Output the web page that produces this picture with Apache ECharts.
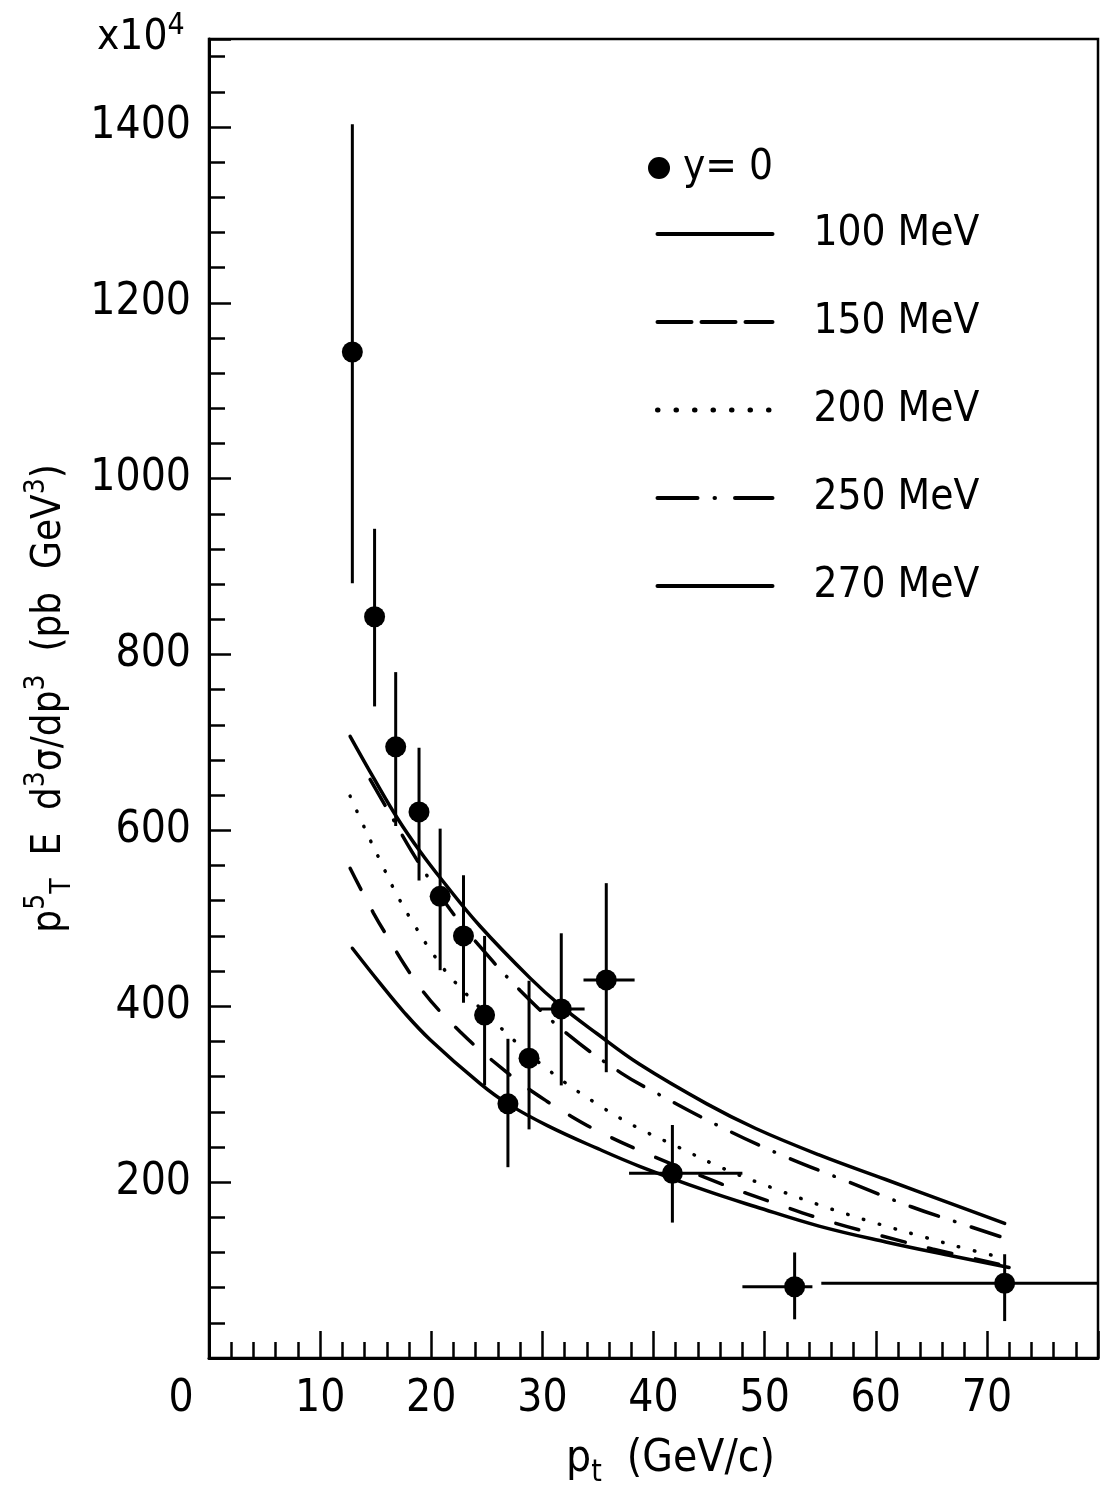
<!DOCTYPE html>
<html><head><meta charset="utf-8">
<script src="https://cdn.jsdelivr.net/npm/echarts@6/dist/echarts.min.js"></script>
<style>html,body{margin:0;padding:0;background:#fff}#c{width:1101px;height:1493px}</style>
</head><body><div id="c"></div>
<script>
const FONT = '"Liberation Sans Narrow","DejaVu Sans Condensed","DejaVu Sans",sans-serif';

// data points (y = 0)
const pointX  = [12.9, 14.9, 16.8, 18.9, 20.8, 22.9, 24.8, 26.9, 28.8, 31.7, 35.75, 41.7, 52.7, 71.6];
const pointY  = [1144, 843, 695, 621, 525, 480, 390, 289, 341, 397, 430, 210, 81, 85];
const errLow  = [881, 741, 605, 543, 441, 404, 310, 217, 260, 310, 325, 154, 44, 42];
const errHigh = [1403, 943, 780, 694, 602, 549, 480, 363, 429, 483, 540, 265, 120, 118];
const binLow  = [null, null, null, null, null, null, null, null, null, 29.8, 33.7, 37.8, 48.0, 55.1];
const binHigh = [null, null, null, null, null, null, null, null, null, 33.8, 38.3, 48.0, 54.3, 80];

// theory curves [pt, value]
const curve100 = [[12.9,466],[15.4,426],[17.5,394],[19.9,362],[24.4,312],[26.9,289],[30.5,264],[35,238],[38.75,218],[44.8,190],[49.2,172],[54.9,150],[60.9,132],[66.9,116],[72,103]];
const curve150 = [[12.7,557],[14.8,506],[16.3,474],[17.65,446],[19.25,417],[20.8,394],[22.6,371],[24.4,350],[26.5,328],[28.2,311],[30.4,292],[32.3,277],[34.7,260],[38.75,236],[46.1,198],[50.7,177],[55.4,157],[60.5,139],[65.1,124],[71.7,105]];
const curve200 = [[12.7,639],[14.1,600],[15.5,563],[16.9,527],[18.55,491],[20.3,457],[22.1,428],[26.8,369],[30.7,326],[34.9,289],[38.4,263],[42.2,240],[46.2,216],[50.8,193],[55.4,172],[60.1,153],[64.5,137],[67.9,125],[71.4,114]];
const curve250 = [[14.5,658],[16.6,612],[18.25,576],[19.7,547],[21.7,510],[24.1,472],[28,418],[32.3,368],[37.1,324],[40.3,301],[45.7,265],[51.3,232],[57.4,201],[63.2,172],[67.4,154],[71.7,136]];
const curve270 = [[12.7,707],[14.8,660],[17,613],[19,576],[21,543],[24.4,491],[28.9,432],[31.6,401],[34.9,369],[38.75,334],[44.8,289],[49.2,261],[54.9,231],[60.9,203],[66.9,175],[71.6,153]];

const curveNames = ['100 MeV', '150 MeV', '200 MeV', '250 MeV', '270 MeV'];
const yTickLabels = [200, 400, 600, 800, 1000, 1200, 1400];
const xTickLabels = [0, 10, 20, 30, 40, 50, 60, 70];

const chart = echarts.init(document.getElementById('c'), null, {renderer: 'canvas'});

const txt = {fontFamily: FONT, color: '#000'};
const lineBase = {color: '#000', width: 3.5, cap: 'round'};
const curveDash = ['solid', [24, 24], [0.5, 16], [30, 17, 0.5, 17], 'solid'];
const legendDash = ['solid', [34, 10], [0.5, 18], [40, 17, 0.5, 20], 'solid'];

function curveSeries(i, data) {
  return {
    type: 'line', name: curveNames[i], data: data, smooth: 0.4,
    symbol: 'none', showSymbol: false, z: 3,
    lineStyle: Object.assign({}, lineBase, {type: curveDash[i]}),
    itemStyle: {color: '#000'}
  };
}

const errData = pointX.map((x, i) => [x, pointY[i], errLow[i], errHigh[i],
  binLow[i] == null ? x : binLow[i], binHigh[i] == null ? x : binHigh[i]]);

const option = {
  animation: false,
  backgroundColor: '#fff',
  title: {
    text: 'x10{s|4}', left: 92, top: 6,
    textStyle: Object.assign({}, txt, {fontSize: 42, fontWeight: 'normal', lineHeight: 54,
      rich: {s: {fontFamily: FONT, fontSize: 30, color: '#000', verticalAlign: 'top', lineHeight: 54}}})
  },
  grid: {left: 209, right: 2, top: 39, bottom: 125, show: true, borderColor: '#000', borderWidth: 2.5},
  legend: [
    {
      data: ['y= 0'], left: 643, top: 142, icon: 'circle', itemWidth: 22, itemHeight: 22,
      itemStyle: {opacity: 1},
      textStyle: Object.assign({}, txt, {fontSize: 42, padding: [0, 0, 0, 8]}), selectedMode: false
    },
    {
      data: curveNames.map((n, i) => ({name: n,
        lineStyle: {color: '#000', width: i === 2 ? 5 : 4, cap: 'round', type: legendDash[i]}})),
      orient: 'vertical', left: 650, top: 208, itemWidth: 115, itemHeight: 6,
      itemGap: 46, itemStyle: {opacity: 0}, selectedMode: false,
      textStyle: Object.assign({}, txt, {fontSize: 42, padding: [0, 0, 0, 36]})
    }
  ],
  xAxis: [{
    type: 'value', min: 0, max: 80, interval: 10,
    axisLine: {show: true, onZero: false, lineStyle: {color: '#000', width: 3}},
    axisTick: {show: true, inside: true, length: 27, lineStyle: {color: '#000', width: 2.5}},
    minorTick: {show: true, splitNumber: 5, length: 16, lineStyle: {color: '#000', width: 2.5}},
    splitLine: {show: false}, minorSplitLine: {show: false},
    axisLabel: Object.assign({}, txt, {
      fontSize: 44, margin: 20,
      formatter: v => xTickLabels.indexOf(v) < 0 ? '' : (v === 0 ? '{z|0}' : String(v)),
      rich: {z: {fontFamily: FONT, fontSize: 44, color: '#000', padding: [0, 56, 0, 0]}}
    }),
    name: 'p{b|t}  (GeV/c)', nameLocation: 'middle', nameGap: 74,
    nameTextStyle: Object.assign({}, txt, {fontSize: 44, lineHeight: 56, padding: [0, 0, 0, 34],
      rich: {b: {fontFamily: FONT, fontSize: 30, color: '#000', verticalAlign: 'bottom', lineHeight: 56}}})
  }],
  yAxis: [{
    type: 'value', min: 0, max: 1500, interval: 200,
    axisLine: {show: true, onZero: false, lineStyle: {color: '#000', width: 3}},
    axisTick: {show: true, inside: true, length: 22, lineStyle: {color: '#000', width: 2.5}},
    splitLine: {show: false},
    axisLabel: Object.assign({}, txt, {
      fontSize: 44, margin: 18,
      formatter: v => yTickLabels.indexOf(v) < 0 ? '' : String(v)
    }),
    name: 'p{sp|5}{sb|T}  E  d{sp|3}σ/dp{sp|3}  (pb  GeV{sp|3})', nameLocation: 'middle', nameRotate: 90, nameGap: 132,
    nameTextStyle: Object.assign({}, txt, {fontSize: 40, lineHeight: 54,
      rich: {
        sp: {fontFamily: FONT, fontSize: 28, color: '#000', verticalAlign: 'top', lineHeight: 54},
        sb: {fontFamily: FONT, fontSize: 28, color: '#000', verticalAlign: 'bottom', lineHeight: 54}
      }})
  }, {
    type: 'value', min: 0, max: 1500, interval: 40, position: 'left', offset: 0,
    axisLine: {show: false},
    axisTick: {show: true, inside: true, length: 16, lineStyle: {color: '#000', width: 2.5}},
    axisLabel: {show: false}, splitLine: {show: false}
  }],
  series: [
    curveSeries(0, curve100),
    curveSeries(1, curve150),
    curveSeries(2, curve200),
    curveSeries(3, curve250),
    curveSeries(4, curve270),
    {
      type: 'custom', name: 'errors', data: errData, z: 4,
      dimensions: ['x', 'y', 'lo', 'hi', 'xl', 'xh'],
      encode: {x: 0, y: 1},
      renderItem: function (params, api) {
        const x = api.value(0), y = api.value(1);
        const pLo = api.coord([x, api.value(2)]);
        const pHi = api.coord([x, api.value(3)]);
        const children = [{type: 'line', shape: {x1: pLo[0], y1: pLo[1], x2: pHi[0], y2: pHi[1]},
          style: {stroke: '#000', lineWidth: 3}}];
        const xl = api.value(4), xh = api.value(5);
        if (xh > xl) {
          const a = api.coord([xl, y]), b = api.coord([xh, y]);
          children.push({type: 'line', shape: {x1: a[0], y1: a[1], x2: b[0], y2: b[1]},
            style: {stroke: '#000', lineWidth: 3}});
        }
        return {type: 'group', children: children};
      }
    },
    {
      type: 'scatter', name: 'y= 0', data: pointX.map((x, i) => [x, pointY[i]]),
      symbol: 'circle', symbolSize: 21, itemStyle: {color: '#000', opacity: 1}, z: 5
    }
  ]
};
chart.setOption(option);
</script></body></html>
